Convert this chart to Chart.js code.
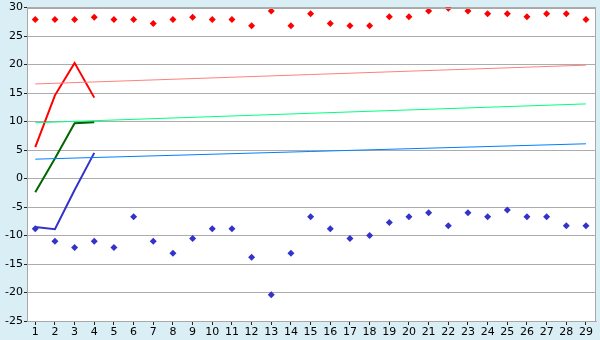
<!DOCTYPE html>
<html>
<head>
<meta charset="utf-8">
<script src="https://cdn.jsdelivr.net/npm/chart.js@4/dist/chart.umd.min.js"></script>
<style>
  html, body { margin: 0; padding: 0; background: #d9eef5; }
  #wrap { width: 600px; height: 340px; }
</style>
</head>
<body>
<div id="wrap"><canvas id="chart" width="600" height="340"></canvas></div>
<script>
// Data
const days = [1, 2, 3, 4, 5, 6, 7, 8, 9, 10, 11, 12, 13, 14, 15, 16, 17, 18, 19, 20, 21, 22, 23, 24, 25, 26, 27, 28, 29];
const highPoints = [27.9, 27.9, 27.9, 28.3, 27.9, 27.9, 27.2, 27.9, 28.3, 27.9, 27.9, 26.8, 29.4, 26.8, 28.9, 27.2, 26.8, 26.8, 28.4, 28.4, 29.4, 29.9, 29.4, 28.9, 28.9, 28.4, 28.9, 28.9, 27.9];
const lowPoints = [-8.8, -11.0, -12.1, -11.0, -12.1, -6.7, -11.0, -13.1, -10.5, -8.8, -8.8, -13.8, -20.4, -13.1, -6.7, -8.8, -10.5, -10.0, -7.7, -6.7, -6.0, -8.3, -6.0, -6.7, -5.5, -6.7, -6.7, -8.3, -8.3];

const lineDays = [1, 2, 3, 4];
const redLine = [5.5, 14.6, 20.3, 14.2];
const greenLine = [-2.4, 3.5, 9.7, 9.9];
const blueLine = [-8.5, -8.9, -2.0, 4.5];

const trendDays = [1, 29];
const pinkTrend = [16.6, 19.9];
const greenTrend = [9.8, 13.1];
const blueTrend = [3.4, 6.1];

const yTicks = [30, 25, 20, 15, 10, 5, 0, -5, -10, -15, -20, -25];

const toXY = (xs, ys) => xs.map((x, i) => ({ x: x, y: ys[i] }));

// Plot area background + border
const plotArea = {
    id: 'plotArea',
    beforeDraw(chart) {
        const { ctx, chartArea: a } = chart;
        ctx.save();
        ctx.fillStyle = '#d9eef5';
        ctx.fillRect(0, 0, chart.width, chart.height);
        ctx.fillStyle = '#ffffff';
        ctx.fillRect(a.left, a.top, a.right - a.left, a.bottom - a.top);
        ctx.restore();
    },
    afterDatasetsDraw(chart) {
        const { ctx, chartArea: a } = chart;
        ctx.save();
        ctx.strokeStyle = '#a8a8a8';
        ctx.lineWidth = 1;
        ctx.strokeRect(Math.round(a.left) + 0.5, Math.round(a.top) + 0.5,
            Math.round(a.right - a.left) - 1, Math.round(a.bottom - a.top));
        ctx.restore();
    }
};

function lineSet(data, color, width) {
    return {
        type: 'line',
        data: data,
        borderColor: color,
        borderWidth: width,
        pointRadius: 0,
        tension: 0,
        fill: false
    };
}

function markerSet(data, color) {
    return {
        type: 'scatter',
        data: data,
        showLine: false,
        pointStyle: 'rectRot',
        pointRadius: 3.5,
        pointBackgroundColor: color,
        pointBorderColor: color,
        pointBorderWidth: 0
    };
}

new Chart(document.getElementById('chart'), {
    data: {
        datasets: [
            lineSet(toXY(trendDays, pinkTrend), '#ff8080', 1),
            lineSet(toXY(trendDays, greenTrend), '#00ff80', 1),
            lineSet(toXY(trendDays, blueTrend), '#0080ff', 1),
            lineSet(toXY(lineDays, redLine), '#ff0000', 2),
            lineSet(toXY(lineDays, greenLine), '#006600', 2),
            lineSet(toXY(lineDays, blueLine), '#3333cc', 2),
            markerSet(toXY(days, highPoints), '#ff0000'),
            markerSet(toXY(days, lowPoints), '#3333cc')
        ]
    },
    options: {
        responsive: false,
        animation: false,
        layout: { padding: { top: 5, right: 4, left: 0, bottom: 0 } },
        plugins: {
            legend: { display: false },
            tooltip: { enabled: false }
        },
        scales: {
            x: {
                type: 'linear',
                min: 0.58,
                max: 29.51,
                afterBuildTicks: axis => { axis.ticks = days.map(v => ({ value: v })); },
                afterFit: axis => { axis.height = 19; },
                border: { color: '#a8a8a8', width: 1 },
                grid: {
                    drawOnChartArea: false,
                    drawTicks: true,
                    tickLength: 4,
                    tickColor: '#222222'
                },
                ticks: {
                    autoSkip: false,
                    maxRotation: 0,
                    padding: 1,
                    color: '#000000',
                    font: { family: 'DejaVu Sans', size: 11 }
                }
            },
            y: {
                min: -25,
                max: 30,
                afterBuildTicks: axis => { axis.ticks = yTicks.map(v => ({ value: v })); },
                afterFit: axis => { axis.width = 27; },
                border: { color: '#a8a8a8', width: 1 },
                grid: {
                    color: '#acacac',
                    lineWidth: 1,
                    drawTicks: true,
                    tickLength: 3,
                    tickColor: '#222222'
                },
                ticks: {
                    padding: 1,
                    color: '#000000',
                    font: { family: 'DejaVu Sans', size: 11 }
                }
            }
        }
    },
    plugins: [plotArea]
});
</script>
</body>
</html>
